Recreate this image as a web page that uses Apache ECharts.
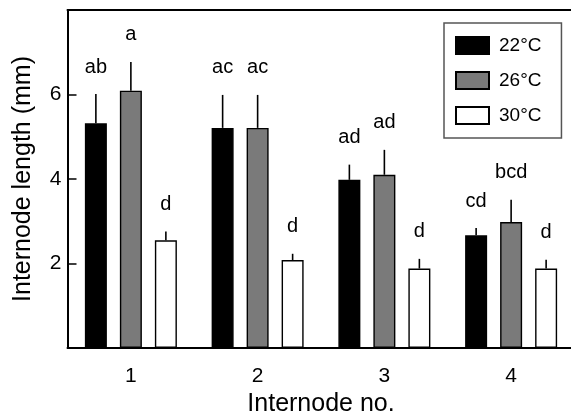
<!DOCTYPE html>
<html><head><meta charset="utf-8">
<script src="https://cdn.jsdelivr.net/npm/echarts@6/dist/echarts.min.js"></script>
<style>html,body{margin:0;padding:0;background:#fff}#c{width:571px;height:416px}</style>
</head><body><div id="c"></div>
<script>
const categories = ['1', '2', '3', '4'];
const seriesNames = ['22°C', '26°C', '30°C'];
const mean22 = [5.32, 5.21, 3.98, 2.67];
const err22 = [0.69, 0.78, 0.36, 0.17];
const mean26 = [6.09, 5.21, 4.10, 2.98];
const err26 = [0.68, 0.78, 0.59, 0.53];
const mean30 = [2.55, 2.08, 1.88, 1.88];
const err30 = [0.21, 0.15, 0.23, 0.21];
const letters22 = ['ab', 'ac', 'ad', 'cd'];
const letters26 = ['a', 'ac', 'ad', 'bcd'];
const letters30 = ['d', 'd', 'd', 'd'];
const yTicks = [2, 4, 6];

const FONT = "'Liberation Sans', Arial, sans-serif";
const BAR_W = 22, BAR_GAP_PX = 13;
const colors = ['#000000', '#7a7a7a', '#ffffff'];
const means = [mean22, mean26, mean30];
const errs = [err22, err26, err30];
const letters = [letters22, letters26, letters30];

const chart = echarts.init(document.getElementById('c'), null, {renderer: 'canvas'});

const barSeries = seriesNames.map((n, i) => ({
  name: n, type: 'bar', data: means[i], barWidth: BAR_W, barGap: (BAR_GAP_PX / BAR_W * 100) + '%',
  itemStyle: {color: colors[i], borderColor: '#000', borderWidth: 1.4},
  xAxisIndex: 0, yAxisIndex: 0, z: 2
}));

const errSeries = seriesNames.map((n, i) => ({
  type: 'custom', name: n + ' err', xAxisIndex: 0, yAxisIndex: 0, z: 3,
  data: means[i].map((m, j) => [j, m, m + errs[i][j], letters[i][j]]),
  renderItem: function (params, api) {
    const off = (i - 1) * (BAR_W + BAR_GAP_PX);
    const p0 = api.coord([api.value(0), api.value(1)]);
    const p1 = api.coord([api.value(0), api.value(2)]);
    const x = p0[0] + off;
    return {
      type: 'group',
      children: [
        {type: 'line', shape: {x1: x, y1: p0[1], x2: x, y2: p1[1]}, style: {stroke: '#000', lineWidth: 1.6}},
        {type: 'text', style: {text: letters[i][params.dataIndex], x: x, y: p1[1] - 27, align: 'center', verticalAlign: 'middle', font: '20px ' + FONT, fill: '#000'}}
      ]
    };
  }
}));

chart.setOption({
  backgroundColor: '#fff',
  animation: false,
  textStyle: {fontFamily: FONT},
  legend: {
    data: seriesNames, orient: 'vertical', left: 444, top: 23,
    borderColor: '#555', borderWidth: 1.5, padding: [13, 20, 13, 11],
    itemWidth: 33, itemHeight: 17, itemGap: 16, icon: 'rect',
    textStyle: {fontSize: 19, color: '#000', fontFamily: FONT, padding: [0, 0, 0, 5]}
  },
  grid: {left: 67.5, top: 10, width: 507, bottom: 68, containLabel: false, outerBoundsMode: 'none'},
  xAxis: [{
    type: 'category', data: categories, position: 'bottom',
    axisLine: {lineStyle: {color: '#000', width: 2}}, axisTick: {show: false},
    axisLabel: {fontSize: 21, color: '#000', margin: 18, fontFamily: FONT},
    name: 'Internode no.', nameLocation: 'middle', nameGap: 44,
    nameTextStyle: {fontSize: 25, color: '#000', fontFamily: FONT}
  }, {
    type: 'category', data: categories, position: 'top',
    axisLine: {lineStyle: {color: '#000', width: 2}}, axisTick: {show: false}, axisLabel: {show: false}
  }],
  yAxis: {
    type: 'value', min: 0, max: 8, interval: 2,
    axisLine: {show: true, lineStyle: {color: '#000', width: 2}},
    axisTick: {show: true, inside: true, length: 9, lineStyle: {color: '#000', width: 1.5}, customValues: yTicks},
    axisLabel: {fontSize: 21, color: '#000', margin: 6, fontFamily: FONT, customValues: yTicks},
    splitLine: {show: false},
    name: 'Internode length (mm)', nameLocation: 'middle', nameGap: 32,
    nameTextStyle: {fontSize: 25, color: '#000', fontFamily: FONT}
  },
  series: barSeries.concat(errSeries)
});
</script></body></html>
